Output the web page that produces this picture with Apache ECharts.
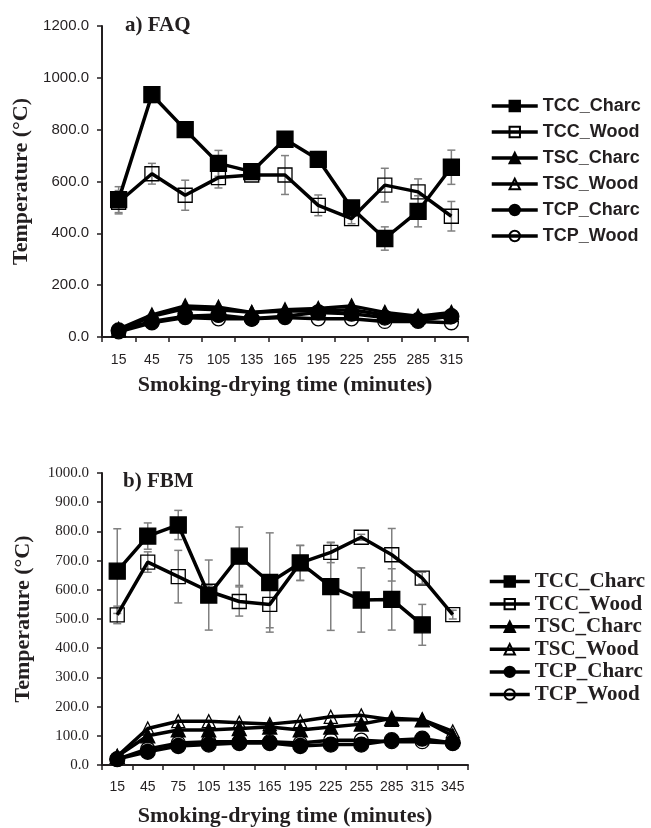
<!DOCTYPE html>
<html><head><meta charset="utf-8">
<script src="https://cdn.jsdelivr.net/npm/echarts@6/dist/echarts.min.js"></script>
<style>html,body{margin:0;padding:0;background:#fff}#c{width:651px;height:828px}</style>
</head><body><div id="c"></div>
<script>
// ---------- Data: a) FAQ ----------
const catsA = ['15','45','75','105','135','165','195','225','255','285','315'];
const faqTCCCharc = [530, 935, 800, 670, 638, 763, 685, 498, 380, 485, 655];
const faqTCCCharcErr = [50, 30, 12, 50, 15, 20, 30, 25, 45, 60, 66];
const faqTCCWood  = [520, 630, 547, 615, 625, 625, 508, 457, 586, 560, 466];
const faqTCCWoodErr = [45, 40, 58, 40, 15, 75, 40, 20, 65, 50, 57];
const faqTSCCharc = [30, 85, 120, 115, 95, 105, 110, 120, 95, 80, 95];
const faqTSCWood  = [25, 80, 110, 105, 95, 100, 100, 105, 85, 75, 85];
const faqTCPCharc = [25, 60, 80, 85, 70, 80, 95, 90, 75, 65, 80];
const faqTCPWood  = [20, 55, 75, 70, 70, 75, 70, 70, 60, 60, 55];

// ---------- Data: b) FBM ----------
const catsB = ['15','45','75','105','135','165','195','225','255','285','315','345'];
const fbmTCCCharc = [664, 784, 822, 582, 715, 625, 692, 611, 565, 567, 480, null];
const fbmTCCCharcErr = [145, 45, 50, 120, 100, 170, 60, 150, 110, 105, 70, null];
const fbmTCCWood  = [514, 695, 645, 595, 560, 550, 692, 728, 780, 720, 640, 515];
const fbmTCCWoodErr = [30, 35, 90, 20, 50, 80, 60, 35, 10, 90, 20, 15];
const fbmTSCCharc = [30, 100, 120, 120, 125, 130, 120, 130, 140, 160, 155, 100];
const fbmTSCWood  = [30, 125, 150, 150, 145, 140, 150, 165, 170, 155, 155, 115];
const fbmTCPCharc = [20, 45, 65, 70, 75, 75, 65, 70, 70, 85, 90, 75];
const fbmTCPWood  = [20, 55, 75, 80, 80, 80, 75, 85, 85, 80, 80, 75];

const seriesNames = ['TCC_Charc','TCC_Wood','TSC_Charc','TSC_Wood','TCP_Charc','TCP_Wood'];
const yTicksA = [0, 1200, 200];
const yTicksB = [0, 1000, 100];

const ink = '#231f20';
const serif = 'Liberation Serif';
const sans = 'Liberation Sans';

const styles = {
  TCC_Charc: {symbol:'rect', size:16, fill:'#000'},
  TCC_Wood:  {symbol:'rect', size:14, fill:'rgba(255,255,255,0)'},
  TSC_Charc: {symbol:'triangle', size:14, fill:'#000'},
  TSC_Wood:  {symbol:'triangle', size:13, fill:'rgba(255,255,255,0)'},
  TCP_Charc: {symbol:'circle', size:15, fill:'#000'},
  TCP_Wood:  {symbol:'circle', size:14, fill:'rgba(255,255,255,0)'}
};

function lineSeries(name, data, idx) {
  const s = styles[name];
  return {
    name, type:'line', data, xAxisIndex:idx, yAxisIndex:idx,
    symbol:s.symbol, symbolSize:s.size,
    lineStyle:{color:'#000', width:3.5},
    itemStyle:{color:s.fill, borderColor:'#000', borderWidth:1.3},
    emphasis:{disabled:true}, z:3
  };
}

function errSeries(vals, errs, idx) {
  const data = [];
  vals.forEach((v,i) => { if (v != null && errs[i] != null) data.push([i, v - errs[i], v + errs[i]]); });
  return {
    type:'custom', xAxisIndex:idx, yAxisIndex:idx, z:2, silent:true,
    data, encode:{x:0, y:[1,2]},
    renderItem(params, api) {
      const x = api.value(0);
      const p1 = api.coord([x, api.value(2)]);
      const p2 = api.coord([x, api.value(1)]);
      const c = 4;
      const st = {stroke:'#808080', lineWidth:1.5};
      return {type:'group', children:[
        {type:'line', shape:{x1:p1[0], y1:p1[1], x2:p2[0], y2:p2[1]}, style:st},
        {type:'line', shape:{x1:p1[0]-c, y1:p1[1], x2:p1[0]+c, y2:p1[1]}, style:st},
        {type:'line', shape:{x1:p2[0]-c, y1:p2[1], x2:p2[0]+c, y2:p2[1]}, style:st}
      ]};
    }
  };
}

function xAxis(cats, idx, gap, labelMargin) {
  return {
    type:'category', data:cats, gridIndex:idx, boundaryGap:true,
    axisLine:{lineStyle:{color:ink, width:2}},
    axisTick:{show:true, alignWithLabel:false, length:5, lineStyle:{color:ink, width:1.5}},
    axisLabel:{color:ink, fontFamily:sans, fontSize:14, margin:labelMargin},
    name:'Smoking-drying time (minutes)', nameLocation:'middle', nameGap:gap,
    nameTextStyle:{color:ink, fontFamily:serif, fontWeight:'bold', fontSize:22}
  };
}

function yAxis(t, idx, font) {
  return {
    type:'value', gridIndex:idx, min:t[0], max:t[1], interval:t[2],
    splitLine:{show:false},
    axisLine:{show:true, lineStyle:{color:ink, width:2}},
    axisTick:{show:true, length:5, lineStyle:{color:ink, width:1.5}},
    axisLabel:{color:ink, fontFamily:font, fontSize:15, margin:13, formatter:v => v.toFixed(1)},
    name:'Temperature (°C)', nameLocation:'middle', nameGap:68,
    nameTextStyle:{color:ink, fontFamily:serif, fontWeight:'bold', fontSize:22}
  };
}

const series = [];
series.push(errSeries(faqTCCCharc, faqTCCCharcErr, 0));
series.push(errSeries(faqTCCWood, faqTCCWoodErr, 0));
const faqData = [faqTCCCharc, faqTCCWood, faqTSCCharc, faqTSCWood, faqTCPCharc, faqTCPWood];
seriesNames.forEach((n,i) => series.push(lineSeries(n, faqData[i], 0)));
series.push(errSeries(fbmTCCCharc, fbmTCCCharcErr, 1));
series.push(errSeries(fbmTCCWood, fbmTCCWoodErr, 1));
const fbmData = [fbmTCCCharc, fbmTCCWood, fbmTSCCharc, fbmTSCWood, fbmTCPCharc, fbmTCPWood];
seriesNames.forEach((n,i) => series.push(lineSeries(n, fbmData[i], 1)));

const option = {
  animation:false,
  backgroundColor:'#fff',
  title:[
    {text:'a) FAQ', left:120, top:10, textStyle:{color:ink, fontFamily:serif, fontWeight:'bold', fontSize:21}},
    {text:'b) FBM', left:118, top:466, textStyle:{color:ink, fontFamily:serif, fontWeight:'bold', fontSize:21}}
  ],
  grid:[
    {left:102, width:366, top:26, height:311},
    {left:102, width:366, top:473, height:293}
  ],
  legend:[
    {data:seriesNames, orient:'vertical', left:485, top:92, itemWidth:46, itemHeight:13, itemGap:8,
     selectedMode:false, lineStyle:{width:3.5},
     textStyle:{color:ink, fontFamily:sans, fontWeight:'bold', fontSize:18, lineHeight:13}},
    {data:seriesNames, orient:'vertical', left:483, top:566, itemWidth:40, itemHeight:13, itemGap:1.6,
     selectedMode:false, lineStyle:{width:3.5},
     textStyle:{color:ink, fontFamily:serif, fontWeight:'bold', fontSize:21, lineHeight:13}}
  ],
  xAxis:[ xAxis(catsA, 0, 37, 16), xAxis(catsB, 1, 40, 15) ],
  yAxis:[ yAxis(yTicksA, 0, sans), yAxis(yTicksB, 1, serif) ],
  series
};
const chart = echarts.init(document.getElementById('c'), null, {renderer:'canvas'});
chart.setOption(option);
</script></body></html>
